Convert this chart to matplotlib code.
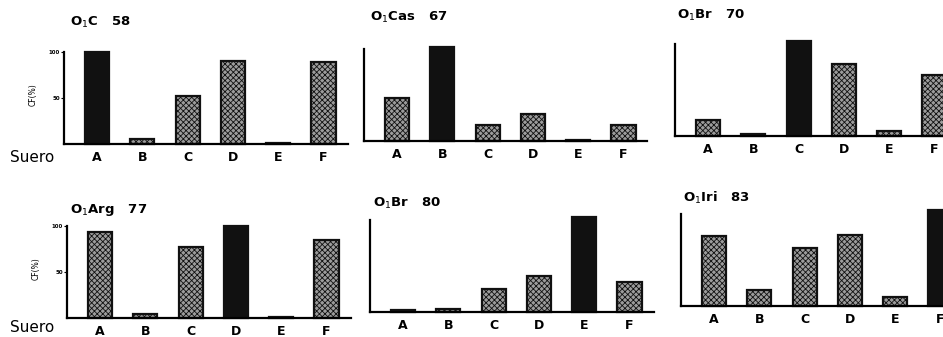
import numpy as np
import matplotlib
matplotlib.use('Agg')
import matplotlib.pyplot as plt

plt.rcParams['font.family'] = ['DejaVu Sans']
plt.rcParams['hatch.linewidth'] = 0.6

sueros = ['A', 'B', 'C', 'D', 'E', 'F']
titles = [r'O$_1$C   58', r'O$_1$Cas   67', r'O$_1$Br   70',
          r'O$_1$Arg   77', r'O$_1$Br   80', r'O$_1$Iri   83']
cf_c58 = [100, 5, 52, 91, 1, 89]
cf_cas67 = [47, 103, 17, 30, 1, 17]
cf_br70 = [17, 2, 104, 78, 5, 66]
cf_arg77 = [94, 4, 78, 100, 1, 85]
cf_br80 = [2, 3, 25, 39, 104, 33]
cf_iri83 = [76, 17, 63, 77, 10, 105]
all_cf = [cf_c58, cf_cas67, cf_br70, cf_arg77, cf_br80, cf_iri83]
black_idx = [0, 1, 2, 3, 4, 5]   # homologous serum drawn in black

# axis origin in pixels (x of y-axis, y of baseline) and title position
origins = [(64, 144), (364, 141), (675, 136), (67, 318), (370, 312), (681, 306)]
title_pos = [(70, 22), (370, 17), (677, 15), (70, 210), (373, 203), (683, 198)]

W, H = 943, 337
fig = plt.figure(figsize=(W / 100, H / 100), dpi=100)

step = 45.3
off = 33
wpx = off + 5 * step + 24
xs = np.arange(6)
for i, (cf, (L, B)) in enumerate(zip(all_cf, origins)):
    ax = fig.add_axes([L / W, (H - B) / H, wpx / W, 99 / H])
    cols = ['#9c9c9c'] * 6
    hatches = ['xxxxxx'] * 6
    cols[black_idx[i]] = '#111111'
    hatches[black_idx[i]] = None
    for x, v, c, h in zip(xs, cf, cols, hatches):
        ax.bar(x, v, width=0.53, color=c, edgecolor='#111111', linewidth=1.6,
               hatch=h, clip_on=False)
    ax.set_xlim(-off / step, (wpx - off) / step)
    ax.set_ylim(0, 108)
    for s in ['top', 'right']:
        ax.spines[s].set_visible(False)
    ax.spines['left'].set_bounds(0, 100)
    ax.spines['left'].set_linewidth(1.6)
    ax.spines['bottom'].set_linewidth(1.6)
    ax.set_xticks(xs)
    ax.set_xticklabels(sueros, fontsize=9, fontweight='bold')
    ax.tick_params(axis='x', length=0, pad=5)
    if i in (0, 3):
        ax.set_yticks([50, 100])
        ax.set_yticklabels(['50', '100'], fontsize=4, fontweight='bold')
        ax.tick_params(axis='y', length=2, pad=1)
        ax.set_ylabel('CF(%)', fontsize=5.5, labelpad=8)
    else:
        ax.set_yticks([])
    tx, ty = title_pos[i]
    fig.text(tx / W, (H - ty) / H, titles[i], fontsize=9.5, fontweight='bold',
             ha='left', va='center')

fig.text(10 / W, (H - 158) / H, 'Suero', fontsize=11, va='center', ha='left')
fig.text(10 / W, (H - 328) / H, 'Suero', fontsize=11, va='center', ha='left')

fig.savefig('out.png', dpi=100)
